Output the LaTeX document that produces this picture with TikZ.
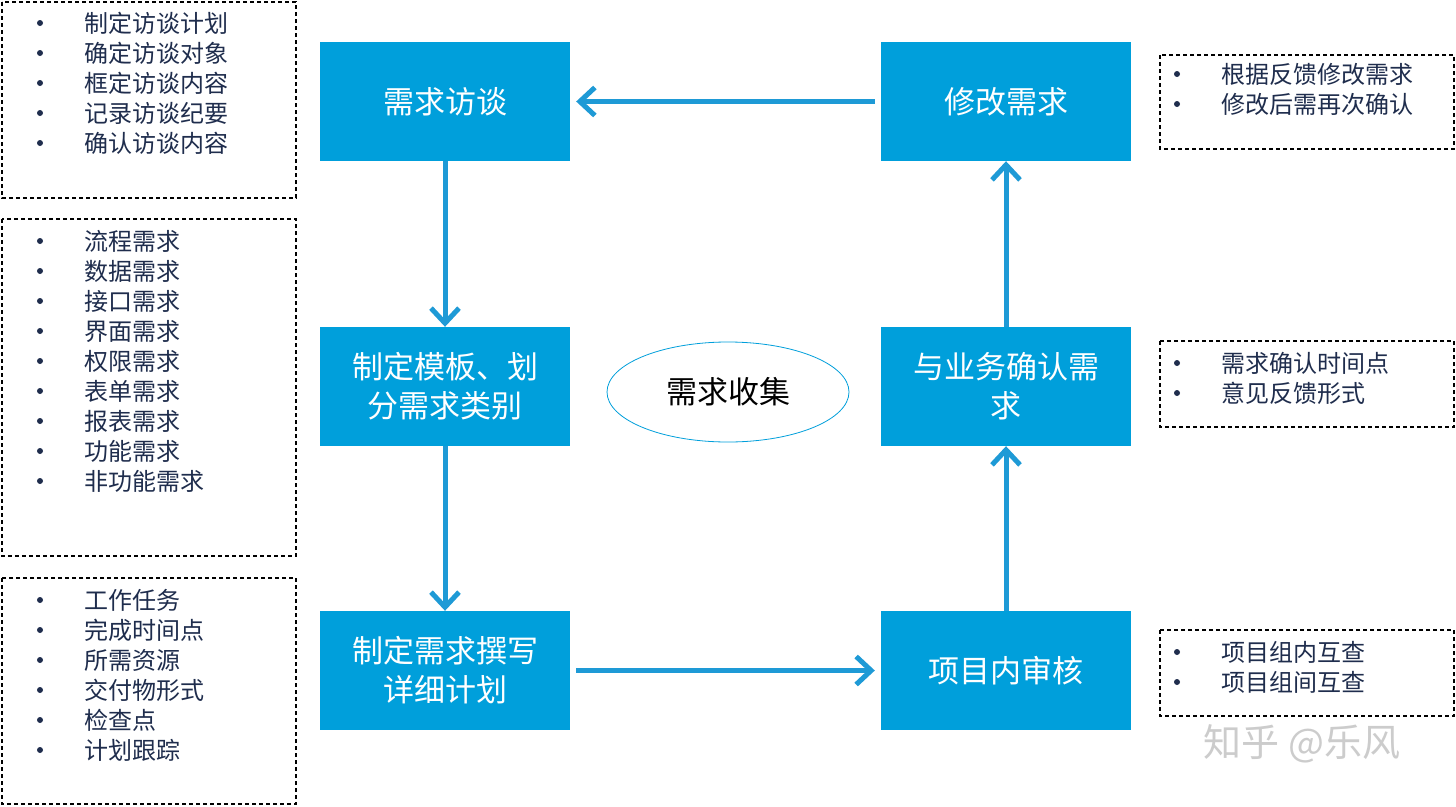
\documentclass[tikz,border=0pt]{standalone}
\usepackage{fontspec}
\setmainfont{Noto Sans CJK SC}
\usetikzlibrary{arrows.meta,shapes.geometric,calc}
\definecolor{bx}{HTML}{009FDB}
\definecolor{ar}{HTML}{1E9AD6}
\definecolor{tx}{HTML}{1F2D4D}
\begin{document}
\begin{tikzpicture}[x=1pt,y=-1pt,
  box/.style={fill=bx,draw=none,minimum width=250pt,minimum height=119pt,text=white,align=center,font=\fontsize{31}{39}\selectfont,inner sep=0pt},
  dbox/.style={draw=black,dash pattern=on 4pt off 3pt,line width=1.5pt},
  itm/.style={anchor=west,text=tx,font=\fontsize{24}{28}\selectfont,inner sep=0pt},
  arr/.style={draw=ar,line width=5pt,-{Straight Barb[length=15pt,width=28pt,line width=5pt]}}]
\useasboundingbox (0,0) rectangle (1456,806);
\fill[white] (0,0) rectangle (1456,806);
\node[box] (a) at (445,101.5) {需求访谈};
\node[box] (b) at (445,386.5) {制定模板、划\\分需求类别};
\node[box] (c) at (445,670.5) {制定需求撰写\\详细计划};
\node[box] (d) at (1006,670.5) {项目内审核};
\node[box] (e) at (1006,386.5) {与业务确认需\\求};
\node[box] (f) at (1006,101.5) {修改需求};
\node[draw=bx,line width=0.8pt,ellipse,minimum width=242pt,minimum height=100pt,font=\fontsize{31}{36}\selectfont] (g) at (728,392) {需求收集};
\draw[arr] ($(f.west)+(-6,0)$) -- ($(a.east)+(6,0)$);
\draw[arr] (a.south) -- (b.north);
\draw[arr] (b.south) -- (c.north);
\draw[arr] ($(c.east)+(6,0)$) -- ($(d.west)+(-6,0)$);
\draw[arr] (d.north) -- (e.south);
\draw[arr] (e.north) -- (f.south);
\draw[dbox] (2,2) rectangle (296,198);
\draw[dbox] (2,219) rectangle (296,556);
\draw[dbox] (2,578) rectangle (296,804);
\draw[dbox] (1160,55) rectangle (1454,149);
\draw[dbox] (1160,341) rectangle (1454,427);
\draw[dbox] (1160,630) rectangle (1454,716);
\newcommand{\blist}[3]{%
  \foreach \t [count=\i from 0] in {#3} {
    \fill[tx] (#1,#2+30*\i) circle (3pt);
    \node[itm] at (#1+44,#2+30*\i) {\t};
  }}
\blist{40}{23}{制定访谈计划,确定访谈对象,框定访谈内容,记录访谈纪要,确认访谈内容}
\blist{40}{241}{流程需求,数据需求,接口需求,界面需求,权限需求,表单需求,报表需求,功能需求,非功能需求}
\blist{40}{600}{工作任务,完成时间点,所需资源,交付物形式,检查点,计划跟踪}
\blist{1177}{74}{根据反馈修改需求,修改后需再次确认}
\blist{1177}{363}{需求确认时间点,意见反馈形式}
\blist{1177}{652}{项目组内互查,项目组间互查}
\node[text=black!20,font=\fontsize{38}{44}\selectfont] (w) at (1302,744) {知乎 @乐风};
\end{tikzpicture}
\end{document}
